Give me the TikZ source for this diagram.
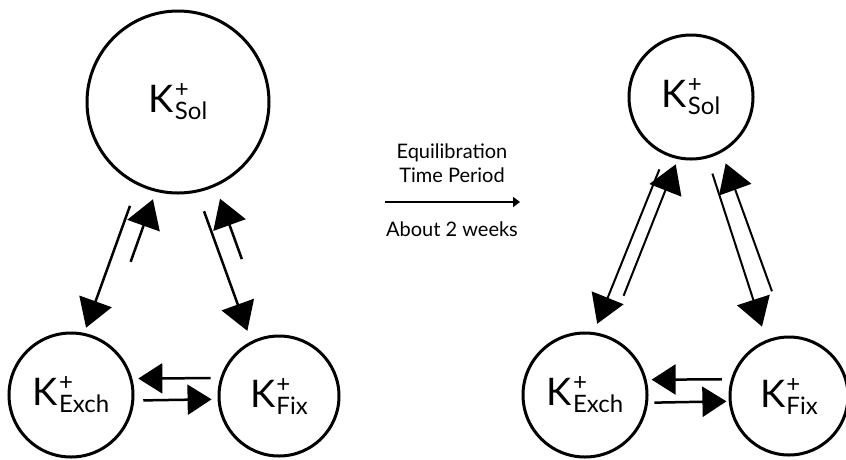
\documentclass[tikz,border=0pt]{standalone}
\usepackage{fontspec}
\setmainfont{Lato}
\usetikzlibrary{arrows.meta,calc}
\newcommand{\kion}[1]{{\fontsize{38}{40}\selectfont K}\kern1pt\rlap{\raisebox{15pt}{\fontsize{24}{26}\selectfont +}}\raisebox{-7pt}{\fontsize{24}{26}\selectfont #1}}

\begin{document}
\begin{tikzpicture}[x=1pt,y=-1pt,
    pool/.style={circle,draw,line width=3pt,inner sep=0pt},
    arr/.style={-{Triangle[length=28pt,width=34pt]},line width=2.5pt},
    harr/.style={-{Triangle[length=24pt,width=30pt]},line width=2.5pt},
    note/.style={anchor=base,font=\fontsize{20}{22}\selectfont}
]
\useasboundingbox (0,0) rectangle (846,459);
% before equilibration
\node[pool,minimum size=182pt] (solL) at (178,102) {\kion{Sol}};
\node[pool,minimum size=124pt] (exchL) at (71,395) {\kion{Exch}};
\node[pool,minimum size=120pt] (fixL) at (279,396) {\kion{Fix}};
\draw[arr,shorten <=22pt,shorten >=5.5pt] (solL.244.5) -- (exchL.78.7);
\draw[arr,shorten <=83pt,shorten >=8pt] (exchL.60.8) -- (solL.256.5);
\draw[arr,shorten <=20pt,shorten >=11pt] (solL.282.8) -- (fixL.117.1);
\draw[arr,shorten <=81pt,shorten >=13pt] (fixL.99.8) -- (solL.294.5);
\draw[harr,shorten <=9.5pt,shorten >=6pt] (fixL.163.5) -- (exchL.15);
\draw[harr,shorten <=9pt,shorten >=6pt] (exchL.355.4) -- (fixL.183.8);
% time arrow
\node[note] (eqa) at (452,158) {Equilibration};
\node[note] (eqb) at (452,182) {Time Period};
\node[note] (eqc) at (452,236) {About 2 weeks};
\coordinate (eqs) at (385,202);
\coordinate (eqe) at (520,202);
\draw[-{Triangle[length=7pt,width=10pt]},line width=2.5pt] (eqs) -- (eqe);
% after equilibration
\node[pool,minimum size=124pt] (solR) at (691,97) {\kion{Sol}};
\node[pool,minimum size=124pt] (exchR) at (585,395) {\kion{Exch}};
\node[pool,minimum size=118pt] (fixR) at (789,396) {\kion{Fix}};
\draw[arr,line width=2pt,shorten <=15.5pt,shorten >=9pt] (solR.246) -- (exchR.82.1);
\draw[arr,line width=2pt,shorten <=43pt,shorten >=5.6pt] (exchR.69.4) -- (solR.258.9);
\draw[arr,line width=2pt,shorten <=47pt,shorten >=11.5pt] (fixR.91.2) -- (solR.299);
\draw[arr,line width=2pt,shorten <=16pt,shorten >=14pt] (solR.285.1) -- (fixR.112.6);
\draw[harr,shorten <=9pt,shorten >=5pt] (fixR.164.3) -- (exchR.14);
\draw[harr,shorten <=6.4pt,shorten >=2.3pt] (exchR.353.5) -- (fixR.185.8);
\end{tikzpicture}
\end{document}
